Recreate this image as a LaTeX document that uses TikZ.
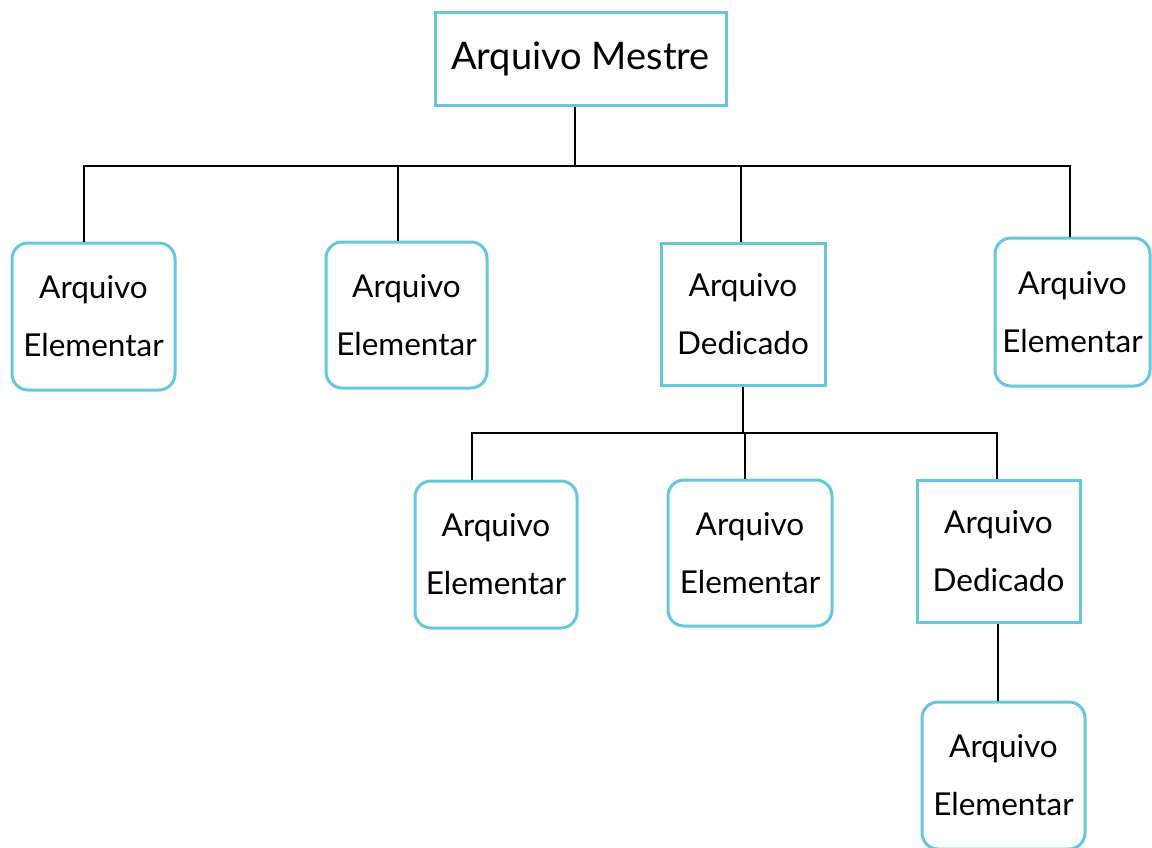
\documentclass[tikz,border=0pt]{standalone}
\usepackage{fontspec}
\setmainfont{Lato}
\definecolor{boxcyan}{RGB}{100,200,218}
\begin{document}
\begin{tikzpicture}[x=1pt,y=-1pt,
  box/.style={draw=boxcyan, line width=3pt, fill=white, align=center, inner sep=0pt,
    font=\fontsize{31.5}{58}\selectfont},
  leaf/.style={box, rounded corners=16pt},
  link/.style={draw=black, line width=2.8pt}]
\useasboundingbox (0,0) rectangle (1152,847);

% master file
\node[box, minimum width=291pt, minimum height=93pt, font=\fontsize{38}{44}\selectfont]
  (master) at (580.5,58.5) {Arquivo Mestre};

% first level
\node[leaf, minimum width=163pt, minimum height=147pt] (e1) at (93.5,316.5) {Arquivo\\Elementar};
\node[leaf, minimum width=161pt, minimum height=146pt] (e2) at (406.5,315) {Arquivo\\Elementar};
\node[box,  minimum width=164pt, minimum height=142pt] (d1) at (743,314) {Arquivo\\Dedicado};
\node[leaf, minimum width=155pt, minimum height=148pt] (e3) at (1072.5,312) {Arquivo\\Elementar};

% second level
\node[leaf, minimum width=162pt, minimum height=147pt] (e4) at (496,554.5) {Arquivo\\Elementar};
\node[leaf, minimum width=164pt, minimum height=146pt] (e5) at (750,553) {Arquivo\\Elementar};
\node[box,  minimum width=163pt, minimum height=142pt] (d2) at (998.5,551) {Arquivo\\Dedicado};

% third level
\node[leaf, minimum width=163pt, minimum height=147pt] (e6) at (1003.5,775.5) {Arquivo\\Elementar};

% bus lines
\coordinate (busA) at (575,166);
\coordinate (busB) at (743,433);

\draw[link] (master.south -| busA) -- (busA);
\draw[link] (e1.north -| 84,0) |- (busA) -| (e3.north -| 1070,0);
\draw[link] (e2.north -| 398,0) -- (398,166);
\draw[link] (d1.north -| 741,0) -- (741,166);

\draw[link] (d1.south) -- (busB);
\draw[link] (e4.north -| 472,0) |- (busB) -| (d2.north -| 997,0);
\draw[link] (e5.north -| 745,0) -- (745,433);

\draw[link] (d2.south -| 998,0) -- (e6.north -| 998,0);
\end{tikzpicture}
\end{document}
